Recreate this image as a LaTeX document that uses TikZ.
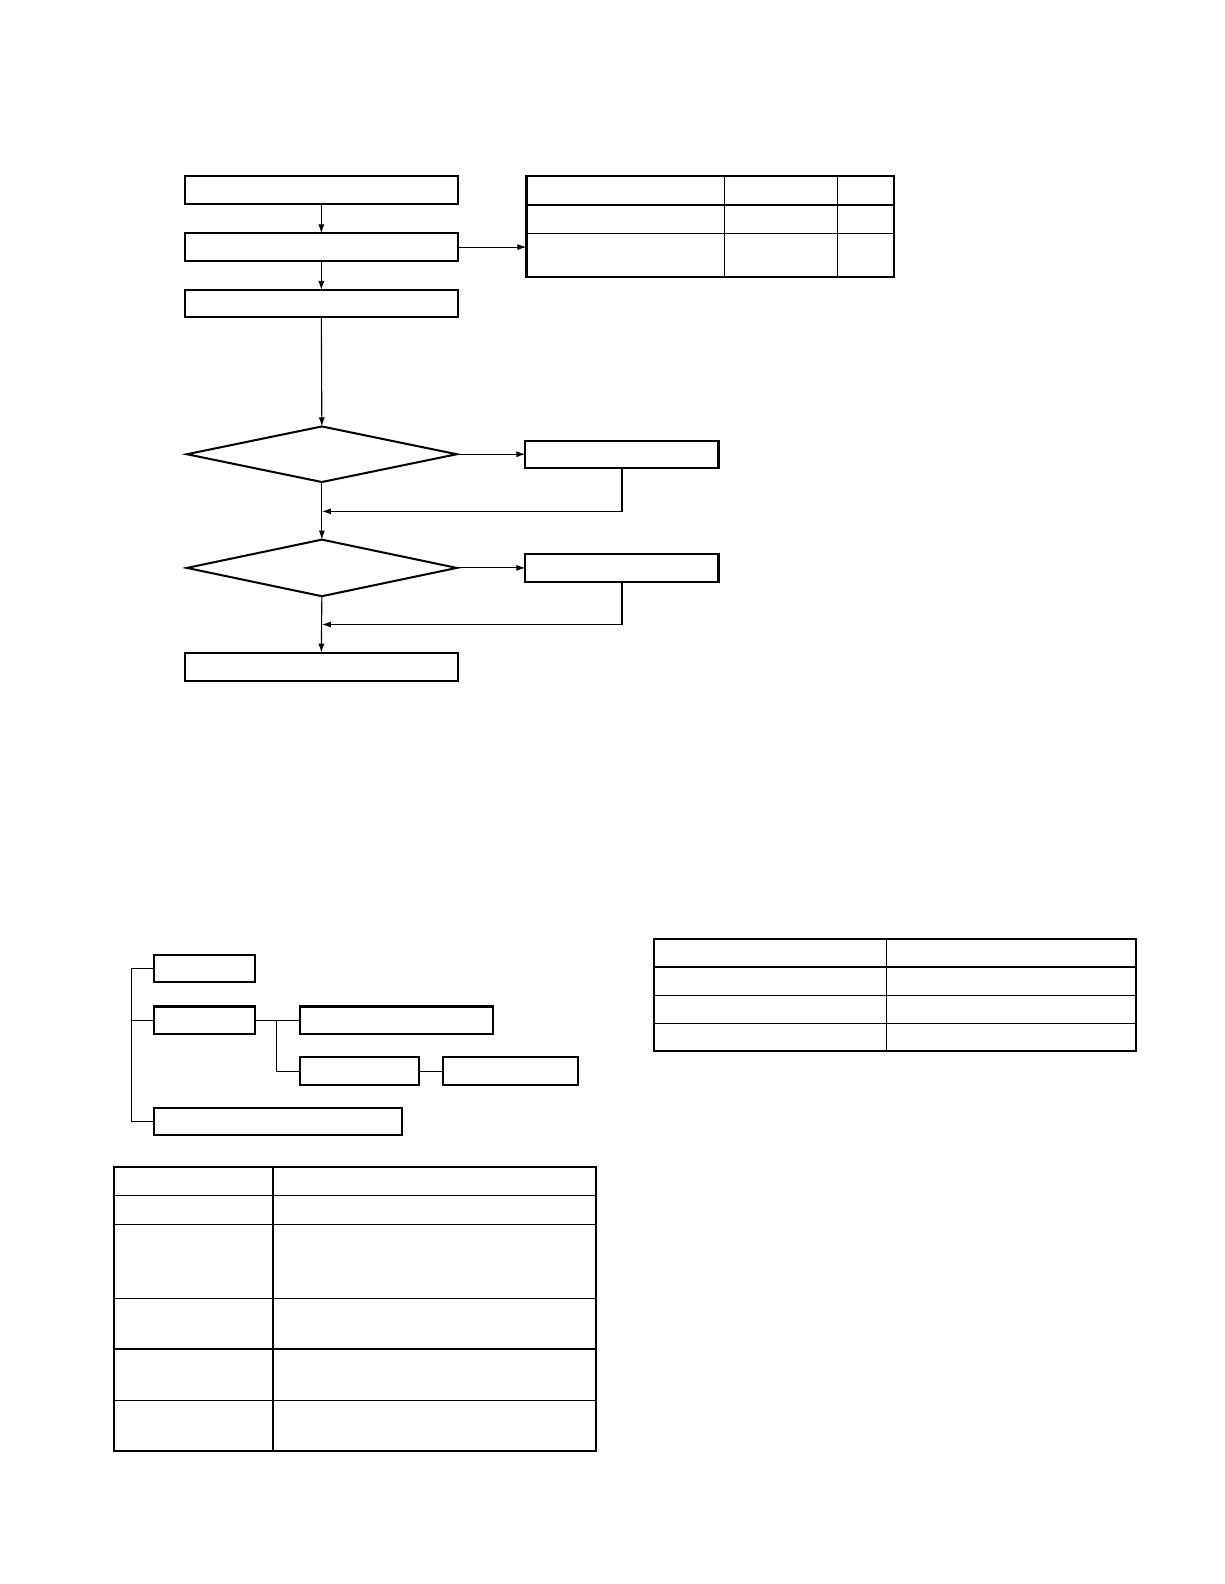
\documentclass[tikz,border=0pt]{standalone}
\usetikzlibrary{arrows.meta,shapes.geometric}
\begin{document}
\begin{tikzpicture}[x=1pt,y=-1pt,
  box/.style={draw, line width=2pt, inner sep=0pt, outer sep=0pt, rectangle},
  dec/.style={draw, line width=2pt, inner sep=0pt, outer sep=0pt, diamond},
  conn/.style={line width=1.1pt},
  arr/.style={line width=1.1pt, -{Latex[length=9pt,width=6pt]}},
  thin/.style={line width=1.3pt}]
\useasboundingbox[fill=white] (0,0) rectangle (1211.3,1567.5);

% ---------- flowchart ----------
\node[box, minimum width=270pt, minimum height=28pt] (b1) at (318,188) {};
\node[box, minimum width=270pt, minimum height=27pt] (b2) at (318,244.5) {};
\node[box, minimum width=270pt, minimum height=27pt] (b3) at (318,300.5) {};
\node[dec, minimum width=267pt, minimum height=55pt] (d1) at (318.5,449.5) {};
\node[dec, minimum width=267pt, minimum height=56pt] (d2) at (318.5,562) {};
\node[box, minimum width=191pt, minimum height=27pt] (r1) at (615.5,449.5) {};
\node[box, minimum width=191pt, minimum height=27pt] (r2) at (615.5,562) {};
\node[box, minimum width=270pt, minimum height=28pt] (b4) at (318,660) {};

% table at top right
\node[box, minimum width=364pt, minimum height=100pt] (t1) at (703,224) {};
\draw[thin] (521,203) -- (885,203);
\draw[thin] (521,231) -- (885,231);
\draw[thin] (717,174) -- (717,274);
\draw[thin] (829,174) -- (829,274);

\coordinate (j1) at (318.5,506);
\coordinate (j2) at (318.5,618);

\draw[arr] (b1) -- (b2);
\draw[arr] (b2) -- (b3);
\draw[arr] (b2.east) -- (b2.east -| t1.west);
\draw[arr] (b3.south) -- (d1.north);
\draw[arr] (d1.east) -- (d1.east -| r1.west);
\draw[arr] (r1.south) |- (j1);
\draw[arr] (d1.south) -- (d2.north);
\draw[arr] (d2.east) -- (d2.east -| r2.west);
\draw[arr] (r2.south) |- (j2);
\draw[arr] (d2.south) -- (b4.north);

% ---------- tree ----------
\node[box, minimum width=100pt, minimum height=27pt] (ta) at (202,958.5) {};
\node[box, minimum width=100pt, minimum height=27pt] (tb) at (202,1009.5) {};
\node[box, minimum width=191pt, minimum height=27pt] (tc) at (392.5,1009.5) {};
\node[box, minimum width=118pt, minimum height=28pt] (td) at (356,1060) {};
\node[box, minimum width=134pt, minimum height=28pt] (te) at (505,1060) {};
\node[box, minimum width=246pt, minimum height=27pt] (tf) at (275,1109.5) {};
\coordinate (tr) at (130,958.5);
\coordinate (tj) at (274,1009.5);

\draw[conn] (ta.west) -- (tr) |- (tf.west);
\draw[conn] (tr |- tb.west) -- (tb.west);
\draw[conn] (tb.east) -- (tc.west);
\draw[conn] (tj) |- (td.west);
\draw[conn] (td.east) -- (te.west);

% ---------- lower left table ----------
\node[box, minimum width=477pt, minimum height=281pt] (t2) at (351.5,1295.5) {};
\draw[thin] (270,1155) -- (270,1436);
\foreach \yy in {1183,1212,1285,1335,1386} \draw[thin] (113,\yy) -- (590,\yy);

% ---------- right table ----------
\node[box, minimum width=477pt, minimum height=111pt] (t3) at (885.5,984.5) {};
\draw[thin] (877,929) -- (877,1040);
\foreach \yy in {957,985,1013} \draw[thin] (647,\yy) -- (1124,\yy);
\end{tikzpicture}
\end{document}
